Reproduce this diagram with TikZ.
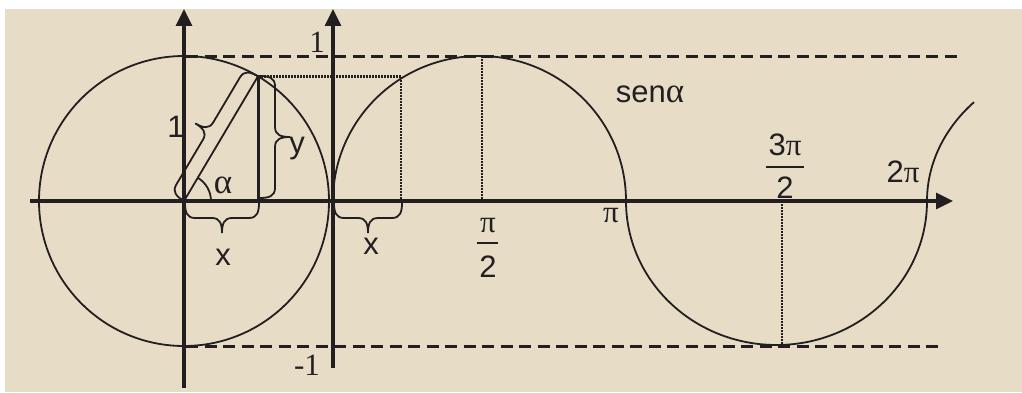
\documentclass[tikz,border=0pt]{standalone}
\usepackage{fontspec}
\setmainfont{Liberation Sans}
\newfontfamily\serifgr{Liberation Serif}
\usetikzlibrary{arrows.meta}
\definecolor{bgbeige}{RGB}{231,221,199}
\definecolor{ink}{RGB}{35,31,32}
\newcommand\gr[1]{{\serifgr #1}}
\newcommand\gral{{\serifgr\fontsize{35}{36}\selectfont α}}
% custom curly brace: start point, direction angle, length (brace on left side)
\newcommand\mybrace[3]{%
  \begin{scope}[shift={#1},rotate=#2]
    \draw[bracestyle] (0,0) .. controls (0,9) and (2,15) .. (10,15)
      -- ({#3/2-10},15) .. controls ({#3/2-2},15) and ({#3/2},21) .. ({#3/2},30)
      .. controls ({#3/2},21) and ({#3/2+2},15) .. ({#3/2+10},15)
      -- ({#3-10},15) .. controls ({#3-2},15) and (#3,9) .. (#3,0);
  \end{scope}}
\begin{document}
\begin{tikzpicture}[x=1pt,y=1pt,
  axisline/.style={ink,line width=3.2pt,-{Triangle[length=17pt,width=16pt]}},
  thinline/.style={ink,line width=1.8pt},
  dashline/.style={ink,line width=3pt,dash pattern=on 12pt off 6.5pt},
  dotline/.style={ink,line width=2.6pt,dash pattern=on 2pt off 1pt},
  bracestyle/.style={ink,line width=1.8pt,line cap=round},
  lbl/.style={ink,inner sep=0pt,anchor=base,font=\fontsize{31}{36}\selectfont},
  fracbar/.style={ink,line width=2.2pt}]
\useasboundingbox (0,0) rectangle (1022,392);
\fill[white] (0,0) rectangle (1022,392);
\fill[bgbeige] (5,0) rectangle (1022,383);

% key points
\coordinate (O) at (184,191);
\coordinate (O2) at (333,191);
\coordinate (P) at (258,315.7);
\coordinate (Pf) at (258,191);
\coordinate (Q) at (401,315.7);
\coordinate (Qf) at (401,191);

% unit circle
\draw[thinline] (O) circle[radius=145];

% sine curve (semicircles)
\draw[thinline] (O2) arc[start angle=180,end angle=0,x radius=146.5,y radius=145]
  arc[start angle=180,end angle=360,x radius=150.5,y radius=144]
  arc[start angle=180,end angle=137,x radius=175,y radius=145];

% dashed bounds
\coordinate (t1) at (186,336); \coordinate (t2) at (957,336);
\coordinate (b1) at (186,46);  \coordinate (b2) at (938,46);
\draw[dashline] (t1) -- (t2);
\draw[dashline] (b1) -- (b2);

% dotted projections
\draw[dotline] (P) -- (Q) -- (Qf);
\coordinate (h1) at (482,336); \coordinate (h1f) at (482,191);
\coordinate (h3) at (782,191); \coordinate (h3f) at (782,48);
\draw[dotline] (h1) -- (h1f);
\draw[dotline] (h3) -- (h3f);

% radius and sine segment
\draw[thinline] (O) -- (P);
\draw[ink,line width=3pt] (P) -- (Pf);

% angle
\draw[thinline] (211,191) arc[start angle=0,end angle=59.3,radius=27];

% axes
\coordinate (xa) at (30,191); \coordinate (xb) at (953,191);
\coordinate (ya) at (184,4);  \coordinate (yb) at (184,383);
\coordinate (za) at (333,24); \coordinate (zb) at (333,383);
\draw[axisline] (xa) -- (xb);
\draw[axisline] (ya) -- (yb);
\draw[axisline] (za) -- (zb);

% braces
\mybrace{(O)}{59.3}{145}
\mybrace{(260,316)}{-90}{122}
\mybrace{(259,189)}{180}{74}
\mybrace{(402,189)}{180}{68}

% labels
\node[lbl] (lone) at (176,255) {1};
\node[lbl] (ly) at (297,239) {y};
\node[lbl] (lx1) at (223,127) {x};
\node[lbl] (lx2) at (371,138) {x};
\node[lbl] (lal) at (223,199) {\gral};
\node[lbl] (lax1) at (317,340) {\serifgr 1};
\node[lbl] (laxm1) at (307,17) {\serifgr -1};
\node[lbl] (lpi2n) at (488,160) {\gr{π}};
\draw[fracbar] (477,149) -- (498,149);
\node[lbl] (lpi2d) at (488,115) {2};
\node[lbl] (lpi) at (611,170) {\gr{π}};
\node[lbl] (l3pin) at (785,237) {3\gr{π}};
\draw[fracbar] (766,225) -- (804,225);
\node[lbl] (l3pid) at (785,194) {2};
\node[lbl] (l2pi) at (903,210) {2\gr{π}};
\node[lbl] (lsen) at (650,290) {sen\gral};
\end{tikzpicture}
\end{document}
